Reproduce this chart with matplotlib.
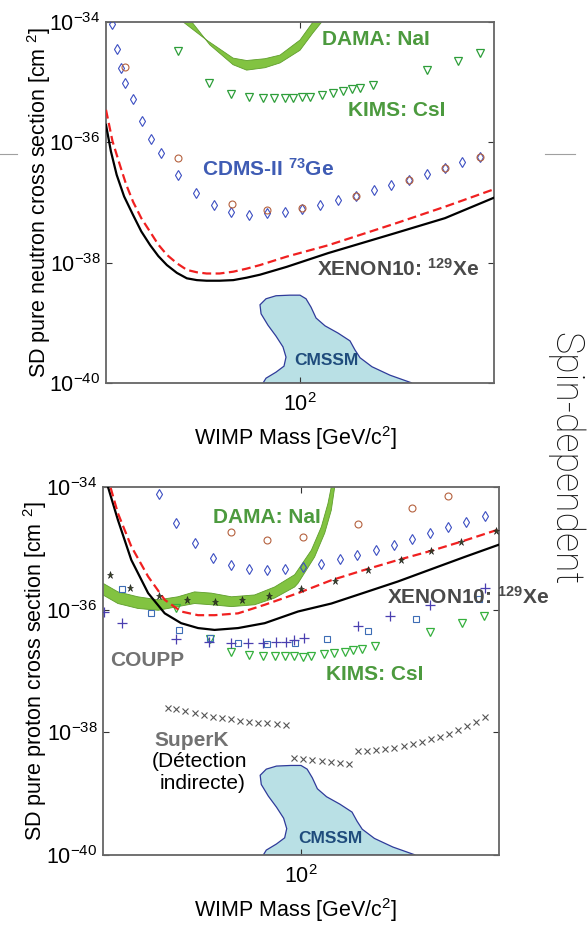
import numpy as np
import matplotlib
matplotlib.use("Agg")
import matplotlib.pyplot as plt
from matplotlib.patches import Polygon
from matplotlib.lines import Line2D

plt.rcParams['font.family'] = ['Liberation Sans', 'DejaVu Sans']
plt.rcParams['mathtext.fontset'] = 'custom'
plt.rcParams['mathtext.rm'] = 'Liberation Sans'
plt.rcParams['mathtext.it'] = 'Liberation Sans:italic'
plt.rcParams['mathtext.bf'] = 'Liberation Sans:bold'

# ---------------- data: top panel (SD pure neutron) ----------------
n_cdms_m = [10.8, 11.4, 11.9, 12.5, 13.8, 15.3, 17.1, 19.1, 23.5, 29.0, 35.9, 44.2, 54.8, 67.6, 83.4,
            102.8, 126.8, 156.3, 193.6, 239.8, 295.9, 364.8, 451.9, 557, 687, 847]
n_cdms_ls = [-34.03, -34.45, -34.76, -35.02, -35.28, -35.65, -35.94, -36.18, -36.54, -36.84, -37.04,
             -37.15, -37.20, -37.17, -37.16, -37.10, -37.04, -36.96, -36.89, -36.80, -36.71, -36.63,
             -36.52, -36.43, -36.33, -36.24]
n_circ_m = [12.6, 23.5, 44.6, 67.6, 102.8, 193.6, 364.8, 557, 847]
n_circ_ls = [-34.74, -36.26, -37.02, -37.13, -37.09, -36.89, -36.63, -36.43, -36.24]
n_kims_m = [23.5, 33.8, 44.3, 54.4, 64.3, 73.5, 83.8, 92.3, 102, 112.7, 130.4, 148.5, 166, 184.8,
            203.8, 238.8, 449.5, 650, 847]
n_kims_ls = [-34.48, -35.01, -35.19, -35.25, -35.26, -35.26, -35.26, -35.26, -35.25, -35.24, -35.21,
             -35.18, -35.15, -35.11, -35.09, -35.04, -34.79, -34.64, -34.52]
n_xe_m = [10, 10.6, 11.35, 12.4, 13.8, 15.2, 16.9, 18.6, 20.6, 23.2, 26.1, 29.4, 33.0, 38.5, 45.3,
          53.0, 62.2, 85.3, 140, 309, 559, 1000]
n_xe_ls = [-35.71, -36.15, -36.54, -36.90, -37.21, -37.48, -37.71, -37.89, -38.04, -38.17, -38.26,
           -38.29, -38.30, -38.30, -38.29, -38.25, -38.20, -38.07, -37.84, -37.51, -37.26, -36.92]
n_xe2_m = [10, 10.8, 11.8, 12.7, 13.8, 15.2, 16.9, 18.6, 20.6, 23.2, 26.1, 29.4, 33.0, 38.5, 45.3,
           53.0, 62.2, 85.3, 140, 309, 559, 1000]
n_xe2_ls = [-35.46, -35.98, -36.38, -36.70, -36.99, -37.26, -37.49, -37.70, -37.87, -38.01, -38.12,
            -38.16, -38.18, -38.18, -38.15, -38.10, -38.04, -37.90, -37.71, -37.35, -37.07, -36.78]
n_dama_out_m = [26.5, 27.7, 34.3, 45.2, 53.1, 66.0, 78.9, 100, 116.7, 129.4, 139]
n_dama_out_ls = [-33.80, -34.0, -34.38, -34.71, -34.80, -34.76, -34.68, -34.47, -34.18, -34.0, -33.80]
n_dama_in_m = [24.4, 25.0, 33.0, 45.2, 53.1, 66.0, 78.9, 100, 116.7, 124]
n_dama_in_ls = [-33.80, -34.0, -34.30, -34.60, -34.64, -34.61, -34.55, -34.30, -34.0, -33.80]

# CMSSM region (same in both panels)
cm_m = [64.5, 66.8, 75.2, 82.7, 84.7, 81.7, 75.2, 68.4, 63.0, 62.2, 66.8, 75.2, 88.8, 100, 107.4,
        114.0, 121, 134.6, 157, 181, 192, 203.9, 235, 291, 378]
cm_ls = [-40.0, -39.92, -39.82, -39.72, -39.57, -39.40, -39.22, -39.04, -38.85, -38.70, -38.60,
         -38.55, -38.54, -38.54, -38.60, -38.74, -38.92, -39.05, -39.17, -39.30, -39.45, -39.58,
         -39.73, -39.87, -40.0]

# ---------------- data: bottom panel (SD pure proton) ----------------
p_cdms_m = [19.1, 23.5, 29.0, 35.8, 44.2, 54.6, 67.3, 83.3, 102.4, 126.7, 156.8, 192.3, 238.3, 295,
            363.8, 448.7, 555, 684, 847]
p_cdms_ls = [-34.11, -34.58, -34.92, -35.15, -35.27, -35.34, -35.35, -35.34, -35.31, -35.26, -35.18,
             -35.11, -35.03, -34.94, -34.85, -34.75, -34.66, -34.57, -34.47]
p_circ_m = [44.5, 67.3, 101.9, 195, 364.8, 555]
p_circ_ls = [-34.74, -34.86, -34.82, -34.60, -34.34, -34.15]
p_kims_m = [23.4, 34.6, 44.5, 54.5, 64.3, 73.6, 82.7, 92.3, 102.4, 112.7, 130.6, 147.6, 165.9, 183.6,
            202.3, 237.7, 449.5, 647, 836]
p_kims_ls = [-35.98, -36.48, -36.69, -36.74, -36.76, -36.76, -36.76, -36.76, -36.77, -36.76, -36.73,
             -36.71, -36.69, -36.66, -36.64, -36.59, -36.37, -36.22, -36.11]
p_star_m = [10.8, 13.7, 19.1, 26.7, 36.6, 50.3, 68.7, 100.4, 148, 217.8, 321, 451.9, 641, 968]
p_star_ls = [-35.43, -35.64, -35.77, -35.84, -35.87, -35.84, -35.78, -35.67, -35.54, -35.36, -35.19,
             -35.05, -34.90, -34.72]
p_sq_m = [12.5, 17.4, 24.3, 34.6, 48.2, 67.0, 93.5, 134.9, 217.3, 382.8, 797]
p_sq_ls = [-35.66, -36.06, -36.33, -36.47, -36.55, -36.56, -36.54, -36.48, -36.35, -36.15, -35.82]
p_plus_m = [10.1, 12.5, 23.5, 34.3, 44.2, 54.1, 64.4, 75.2, 84.2, 92.7, 103.5, 195, 280, 449.5, 847]
p_plus_ls = [-36.03, -36.21, -36.48, -36.53, -36.55, -36.55, -36.55, -36.53, -36.52, -36.50, -36.47,
             -36.27, -36.11, -35.92, -35.64]
sk_m = [21.3, 23.4, 26.0, 29.1, 32.4, 35.9, 39.9, 44.5, 49.0, 54.5, 60.7, 67.6, 75.9, 84.3,
        92.7, 102.8, 114.0, 127.3, 141.4, 157.4, 174.7,
        193.3, 214.6, 239.2, 265.6, 296, 330, 366.7, 407, 452, 502, 559, 620, 687, 766, 849]
sk_ls = [-37.60, -37.62, -37.65, -37.69, -37.72, -37.75, -37.77, -37.79, -37.81, -37.83, -37.84,
         -37.85, -37.87, -37.88,
         -38.42, -38.44, -38.45, -38.47, -38.48, -38.50, -38.52,
         -38.30, -38.30, -38.29, -38.27, -38.25, -38.22, -38.19, -38.15, -38.11, -38.07, -38.02,
         -37.96, -37.90, -37.83, -37.75]
p_xe_m = [10.2, 10.6, 11.9, 13.9, 16.9, 20.5, 24.8, 30.2, 36.6, 48.1, 65.6, 96.6, 142.3, 209.9, 309,
          455, 671, 1000]
p_xe_ls = [-33.8, -34.0, -34.54, -35.19, -35.73, -36.06, -36.22, -36.30, -36.33, -36.30, -36.22,
           -36.03, -35.90, -35.72, -35.54, -35.34, -35.14, -34.94]
p_xe2_m = [10.6, 10.9, 11.9, 13.9, 16.9, 20.5, 24.8, 30.2, 36.6, 48.1, 65.6, 96.6, 142.3, 209.9, 309,
           455, 646, 1000]
p_xe2_ls = [-33.8, -34.0, -34.43, -34.97, -35.46, -35.84, -36.03, -36.09, -36.09, -36.06, -35.92,
            -35.73, -35.52, -35.35, -35.19, -35.04, -34.89, -34.69]
p_dama_up_m = [9.5, 10, 11.9, 15.0, 19.0, 23.9, 29.0, 35.2, 44.5, 58.3, 73.6, 92.9, 96.6, 112.8,
               126.7, 136.8, 142.2, 145]
p_dama_up_ls = [-35.55, -35.57, -35.71, -35.79, -35.84, -35.79, -35.71, -35.73, -35.79, -35.76,
                -35.63, -35.43, -35.35, -35.03, -34.65, -34.27, -34.0, -33.8]
p_dama_lo_m = [9.5, 10, 11.9, 15.0, 19.0, 23.9, 29.0, 35.2, 44.5, 58.3, 73.6, 92.9, 96.6, 117.2,
               131.8, 142.2, 148, 150.2]
p_dama_lo_ls = [-35.74, -35.76, -35.90, -35.98, -36.01, -35.95, -35.90, -35.92, -35.95, -35.92,
                -35.81, -35.63, -35.57, -35.14, -34.75, -34.38, -34.0, -33.8]

ytick_vals = [-40, -38, -36, -34]
ytick_labels = [r'$10^{-40}$', r'$10^{-38}$', r'$10^{-36}$', r'$10^{-34}$']
xtick_vals = [100]
xtick_labels = [r'$10^{2}$']

GREEN_TXT = '#4c9a3e'
DAMA_FILL = '#82c341'
DAMA_EDGE = '#5f9e2c'
CM_FILL = '#b9e0e5'
CM_EDGE = '#2f3b9a'


def P(v):
    return 10.0 ** np.asarray(v, dtype=float)


fig = plt.figure(figsize=(5.87, 9.26), dpi=100)
ax1 = fig.add_axes([106 / 587, 1 - 383 / 926, 388 / 587, 361 / 926])
ax2 = fig.add_axes([103 / 587, 1 - 855 / 926, 396 / 587, 368 / 926])


def style(ax):
    ax.set_xscale('log')
    ax.set_yscale('log')
    ax.set_xlim(10, 1000)
    ax.set_ylim(1e-40, 1e-34)
    ax.minorticks_off()
    ax.set_yticks(P(ytick_vals))
    ax.set_yticklabels(ytick_labels)
    ax.set_xticks(xtick_vals)
    ax.set_xticklabels(xtick_labels)
    ax.minorticks_off()
    ax.tick_params(direction='in', length=4, width=0.8, color='#333333',
                   top=True, right=True, labelsize=15.5, pad=4)
    ax.tick_params(axis='x', pad=7)
    for s in ax.spines.values():
        s.set_color('#666666')
        s.set_linewidth(1.3)


def cmssm(ax):
    poly = Polygon(np.column_stack([cm_m, P(cm_ls)]), closed=True, facecolor=CM_FILL,
                   edgecolor=CM_EDGE, lw=0.9, zorder=1)
    ax.add_patch(poly)


def band(ax, m1, l1, m2, l2):
    xs = list(m1) + list(m2)[::-1]
    ys = list(P(l1)) + list(P(l2))[::-1]
    poly = Polygon(np.column_stack([xs, ys]), closed=True, facecolor=DAMA_FILL,
                   edgecolor=DAMA_EDGE, lw=0.6, zorder=2)
    ax.add_patch(poly)


# ---------------- top panel ----------------
style(ax1)
cmssm(ax1)
band(ax1, n_dama_out_m, n_dama_out_ls, n_dama_in_m, n_dama_in_ls)
ax1.plot(n_kims_m, P(n_kims_ls), 'v', ms=5.5, mfc='none', mec='#2e9e3a', mew=0.9, zorder=3)
ax1.plot(n_cdms_m, P(n_cdms_ls), 'd', ms=5.5, mfc='none', mec='#3c4fc2', mew=0.8, zorder=3)
ax1.plot(n_circ_m, P(n_circ_ls), 'o', ms=5, mfc='none', mec='#b5623f', mew=0.8, zorder=3)
ax1.plot(n_xe_m, P(n_xe_ls), '-', color='black', lw=1.6, zorder=4)
ax1.plot(n_xe2_m, P(n_xe2_ls), '--', color='#f02020', lw=1.6, dashes=(4, 2), zorder=4)

ax1.text(0.557, 0.952, 'DAMA: NaI', transform=ax1.transAxes, color=GREEN_TXT, fontsize=15,
         fontweight='bold', ha='left', va='center')
ax1.text(0.624, 0.755, 'KIMS: CsI', transform=ax1.transAxes, color=GREEN_TXT, fontsize=15,
         fontweight='bold', ha='left', va='center')
ax1.text(0.247, 0.592, r'CDMS-II $^{\mathbf{73}}$Ge', transform=ax1.transAxes, color='#3f5cb4',
         fontsize=15, fontweight='bold', ha='left', va='center')
ax1.text(0.543, 0.316, r'XENON10: $^{\mathbf{129}}$Xe', transform=ax1.transAxes, color='#4a4a4a',
         fontsize=15, fontweight='bold', ha='left', va='center')
ax1.text(0.485, 0.061, 'CMSSM', transform=ax1.transAxes, color='#1f4c7c', fontsize=12.5,
         fontweight='bold', ha='left', va='center', zorder=5)

# ---------------- bottom panel ----------------
style(ax2)
cmssm(ax2)
band(ax2, p_dama_up_m, p_dama_up_ls, p_dama_lo_m, p_dama_lo_ls)
ax2.plot(sk_m, P(sk_ls), 'x', ms=3.8, color='#555555', mew=0.8, zorder=3)
ax2.plot(p_kims_m, P(p_kims_ls), 'v', ms=5.5, mfc='none', mec='#35b03d', mew=0.9, zorder=3)
ax2.plot(p_sq_m, P(p_sq_ls), 's', ms=4.8, mfc='none', mec='#3d6db5', mew=0.8, zorder=3)
ax2.plot(p_plus_m, P(p_plus_ls), '+', ms=6.5, color='#4a3fb0', mew=0.9, zorder=3)
ax2.plot(p_cdms_m, P(p_cdms_ls), 'd', ms=5.5, mfc='none', mec='#3c4fc2', mew=0.8, zorder=3)
ax2.plot(p_circ_m, P(p_circ_ls), 'o', ms=5, mfc='none', mec='#b5623f', mew=0.8, zorder=3)
ax2.plot(p_xe_m, P(p_xe_ls), '-', color='black', lw=1.6, zorder=4)
ax2.plot(p_xe2_m, P(p_xe2_ls), '--', color='#f02020', lw=1.6, dashes=(4, 2), zorder=4)
ax2.plot(p_star_m, P(p_star_ls), '*', ms=5.2, color='#34401f', mec='#222222', mew=0.4, zorder=5)

ax2.text(0.278, 0.918, 'DAMA: NaI', transform=ax2.transAxes, color=GREEN_TXT, fontsize=15,
         fontweight='bold', ha='left', va='center')
ax2.text(0.716, 0.702, r'XENON10: $^{\mathbf{129}}$Xe', transform=ax2.transAxes, color='#4a4a4a',
         fontsize=15, fontweight='bold', ha='left', va='center', clip_on=False, zorder=6)
ax2.text(0.563, 0.490, 'KIMS: CsI', transform=ax2.transAxes, color=GREEN_TXT, fontsize=15,
         fontweight='bold', ha='left', va='center')
ax2.text(0.019, 0.529, 'COUPP', transform=ax2.transAxes, color='#727272', fontsize=15,
         fontweight='bold', ha='left', va='center')
ax2.text(0.131, 0.3125, 'SuperK', transform=ax2.transAxes, color='#727272', fontsize=15,
         fontweight='bold', ha='left', va='center')
ax2.text(0.244, 0.255, '(Détection', transform=ax2.transAxes, color='black', fontsize=15,
         ha='center', va='center')
ax2.text(0.2525, 0.193, 'indirecte)', transform=ax2.transAxes, color='black', fontsize=15,
         ha='center', va='center')
ax2.text(0.492, 0.045, 'CMSSM', transform=ax2.transAxes, color='#1f4c7c', fontsize=12.5,
         fontweight='bold', ha='left', va='center', zorder=5)

# axis labels
fig.text(39.5 / 587, 1 - 202.5 / 926, r'SD pure neutron cross section [cm $^{2}$]', rotation=90,
         ha='center', va='center', fontsize=15.5)
fig.text(35 / 587, 1 - 671 / 926, r'SD pure proton cross section [cm $^{2}$]', rotation=90,
         ha='center', va='center', fontsize=15.5)
fig.text(296 / 587, 1 - 438 / 926, r'WIMP Mass [GeV/c$^{2}$]', ha='center', va='center',
         fontsize=15.5)
fig.text(296 / 587, 1 - 910 / 926, r'WIMP Mass [GeV/c$^{2}$]', ha='center', va='center',
         fontsize=15.5)

# side title
fig.text(565 / 587, 1 - 459 / 926, 'Spin-dependent', rotation=-90, ha='center', va='center',
         fontsize=27, family=['Roboto', 'DejaVu Sans'], fontweight='light', color='#111111')

# slide decoration lines
fig.add_artist(Line2D([0, 17 / 587], [1 - 154 / 926, 1 - 154 / 926], color='#a0a0a0', lw=0.8))
fig.add_artist(Line2D([545 / 587, 575 / 587], [1 - 154 / 926, 1 - 154 / 926], color='#a0a0a0', lw=0.8))

fig.savefig('out.png', dpi=100)
